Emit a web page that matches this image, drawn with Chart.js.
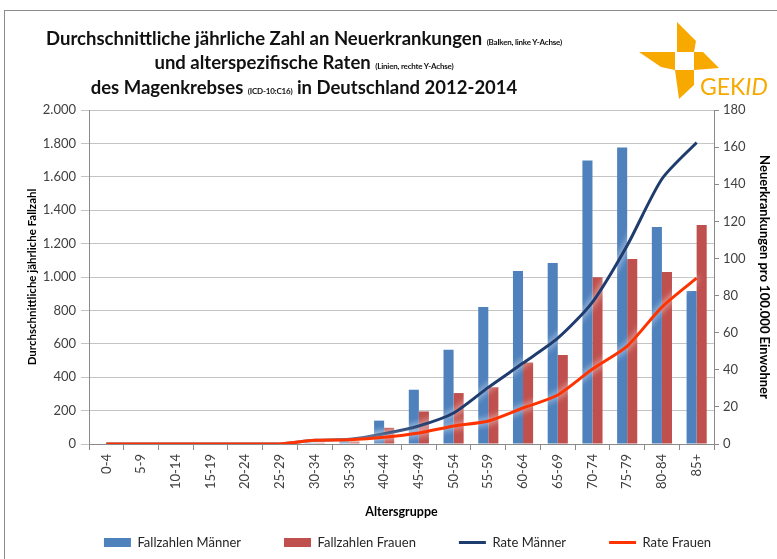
<!DOCTYPE html>
<html>
<head>
<meta charset="utf-8">
<script src="https://cdn.jsdelivr.net/npm/chart.js@4"></script>
<style>
    html, body { margin: 0; padding: 0; background: #fff; }
    body { width: 777px; height: 559px; position: relative; overflow: hidden; font-family: Lato, "Open Sans", sans-serif; }
    #frame { position: absolute; left: 4px; top: 10px; width: 800px; height: 600px; border: 1px solid #8c8c8c; }
    #chart { position: absolute; left: 0; top: 0; }
    .title { position: absolute; left: 0; width: 608px; text-align: center; font-weight: bold; font-size: 18.5px; line-height: 22px; color: #111; white-space: nowrap; }
    .title small { font-size: 8px; font-weight: bold; letter-spacing: -0.2px; }
    #logo { position: absolute; left: 630px; top: 14px; }
</style>
</head>
<body>
<div id="frame"></div>
<canvas id="chart" width="777" height="559"></canvas>
<div class="title" style="top:27px">Durchschnittliche jährliche Zahl an Neuerkrankungen <small>(Balken, linke Y-Achse)</small></div>
<div class="title" style="top:51px">und alterspezifische Raten <small>(Linien, rechte Y-Achse)</small></div>
<div class="title" style="top:76px">des Magenkrebses <small>(ICD-10:C16)</small> in Deutschland 2012-2014</div>
<svg id="logo" width="145" height="88" viewBox="630 14 145 88">
    <g fill="#f7a900">
        <polygon points="677,22 696,41 694,52 677,52"/>
        <polygon points="639,52 675,52 675,70 661,67"/>
        <polygon points="694,52 703,52 719,68 694,70"/>
        <polygon points="675,70 694,70 694,85 679,99"/>
    </g>
    <text x="700" y="95" fill="#f7a900" font-family="Lato, sans-serif" font-size="23">GEK<tspan font-style="italic">ID</tspan></text>
</svg>
<script>
const ageGroups = ['0-4', '5-9', '10-14', '15-19', '20-24', '25-29', '30-34', '35-39', '40-44',
    '45-49', '50-54', '55-59', '60-64', '65-69', '70-74', '75-79', '80-84', '85+'];
const casesMen = [0, 0, 0, 0, 0, 0, 8, 18, 140, 325, 565, 820, 1036, 1084, 1697, 1775, 1300, 916];
const casesWomen = [0, 0, 0, 0, 0, 0, 8, 16, 97, 195, 305, 340, 488, 533, 998, 1108, 1030, 1312];
const rateMen = [0, 0, 0, 0, 0, 0, 2, 2.5, 5.5, 9.7, 16.7, 30.5, 43.6, 57, 76.5, 107, 142.8, 162.5];
const rateWomen = [0, 0, 0, 0, 0, 0, 2, 2.3, 3.6, 5.9, 9.7, 12.4, 19.4, 26.4, 40.4, 52.8, 73.8, 89.4];
const leftTicks = [0, 200, 400, 600, 800, 1000, 1200, 1400, 1600, 1800, 2000];
const rightTicks = [0, 20, 40, 60, 80, 100, 120, 140, 160, 180];

const textColor = '#404040';
const gridColor = '#c4c4c4';
const axisColor = '#8a8a8a';

function formatDe(v) {
    return String(v).replace(/\B(?=(\d{3})+(?!\d))/g, '.');
}

// white halo behind the rate lines
const glow = {
    id: 'glow',
    beforeDatasetDraw(chart, args) {
        if (chart.data.datasets[args.index].type !== 'line') return;
        const ctx = chart.ctx;
        ctx.save();
        ctx.shadowColor = 'rgba(255,255,255,1)';
        ctx.shadowBlur = 7;
    },
    afterDatasetDraw(chart, args) {
        if (chart.data.datasets[args.index].type !== 'line') return;
        chart.ctx.restore();
    }
};

new Chart(document.getElementById('chart').getContext('2d'), {
    data: {
        labels: ageGroups,
        datasets: [
            { type: 'bar', label: 'Fallzahlen Männer', data: casesMen, backgroundColor: '#4f81bd', yAxisID: 'y', order: 3, pointStyle: 'rect' },
            { type: 'bar', label: 'Fallzahlen Frauen', data: casesWomen, backgroundColor: '#c0504d', yAxisID: 'y', order: 3, pointStyle: 'rect' },
            { type: 'line', label: 'Rate Männer', data: rateMen, borderColor: '#1f3c6e', backgroundColor: '#1f3c6e', borderWidth: 3, pointRadius: 0, tension: 0.25, yAxisID: 'y1', order: 2, pointStyle: 'line' },
            { type: 'line', label: 'Rate Frauen', data: rateWomen, borderColor: '#ff3300', backgroundColor: '#ff3300', borderWidth: 3, pointRadius: 0, tension: 0.25, yAxisID: 'y1', order: 1, pointStyle: 'line' }
        ]
    },
    options: {
        responsive: false,
        animation: false,
        layout: { padding: { left: 38, right: 0, top: 110, bottom: 0 } },
        datasets: { bar: { categoryPercentage: 0.58, barPercentage: 1 } },
        plugins: {
            tooltip: { enabled: false },
            legend: {
                position: 'bottom',
                labels: {
                    usePointStyle: true,
                    pointStyleWidth: 27,
                    boxHeight: 9,
                    padding: 43,
                    color: '#262626',
                    font: { family: 'Lato', size: 13 },
                    sort: (a, b) => a.datasetIndex - b.datasetIndex
                }
            }
        },
        scales: {
            x: {
                grid: { display: true, drawOnChartArea: false, drawTicks: true, tickLength: 6, color: axisColor },
                border: { color: axisColor },
                ticks: { minRotation: 90, maxRotation: 90, color: textColor, font: { family: 'Lato', size: 13 }, padding: 4 },
                title: { display: true, text: 'Altersgruppe', color: '#000', font: { family: 'Lato', size: 12.5, weight: 'bold' }, padding: { top: 0, bottom: -26.5 } },
                afterFit: s => { s.height = 49; }
            },
            y: {
                position: 'left',
                min: 0, max: 2000,
                afterBuildTicks: s => { s.ticks = leftTicks.map(v => ({ value: v })); },
                grid: { color: gridColor, tickLength: 8 },
                border: { color: axisColor },
                ticks: { color: textColor, font: { family: 'Lato', size: 13 }, padding: 5, callback: v => formatDe(v) },
                title: { display: true, text: 'Durchschnittliche jährliche Fallzahl', color: '#000', font: { family: 'Lato', size: 11.5, weight: 'bold' }, padding: { top: -13, bottom: 0 } },
                afterFit: s => { s.width = 51; }
            },
            y1: {
                position: 'right',
                min: 0, max: 180,
                afterBuildTicks: s => { s.ticks = rightTicks.map(v => ({ value: v })); },
                grid: { drawOnChartArea: false, tickLength: 5, color: axisColor },
                border: { color: axisColor },
                ticks: { color: textColor, font: { family: 'Lato', size: 13 }, padding: 4 },
                title: { display: true, text: 'Neuerkrankungen pro 100.000 Einwohner', color: '#000', font: { family: 'Lato', size: 13, weight: 'bold' }, padding: { top: 5, bottom: 0 } },
                afterFit: s => { s.width = 63; }
            }
        }
    },
    plugins: [glow]
});
</script>
</body>
</html>
